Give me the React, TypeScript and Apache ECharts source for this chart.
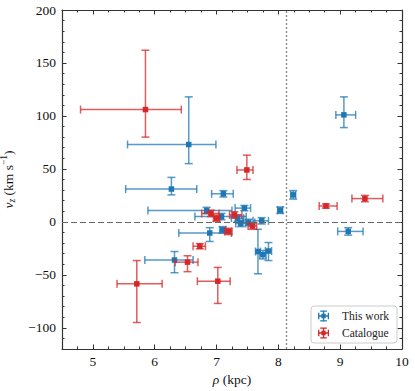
import React, { useEffect, useRef } from "react";
import * as echarts from "echarts";

// [rho (kpc), v_z (km/s), rho err minus, rho err plus, v_z err minus, v_z err plus]
const thisWork: number[][] = [
  [6.55, 73, 0.99, 0.44, 18, 45],
  [6.27, 31, 0.74, 0.41, 5.5, 11],
  [7.11, 26.5, 0.19, 0.16, 3, 3],
  [9.06, 101, 0.13, 0.19, 12, 17],
  [8.24, 25.5, 0.04, 0.04, 4, 4],
  [8.03, 11, 0.04, 0.04, 3, 3],
  [9.13, -9, 0.17, 0.24, 3.5, 3.5],
  [6.32, -36, 0.48, 0.3, 12, 8],
  [6.89, -10.5, 0.5, 0.35, 8, 5],
  [7.1, -7.5, 0.05, 0.05, 3, 3],
  [6.84, 10.7, 0.95, 0.41, 3, 3],
  [7.08, 5, 0.43, 0.4, 3, 3],
  [7.45, 13, 0.15, 0.1, 2.5, 2.5],
  [7.34, 3.5, 0.1, 0.1, 3, 3],
  [7.39, -1.5, 0.08, 0.08, 3, 3],
  [7.52, -0.5, 0.1, 0.1, 3, 3],
  [7.73, 1, 0.14, 0.11, 3, 3],
  [7.67, -28, 0.04, 0.04, 21, 21],
  [7.75, -31, 0.05, 0.05, 4, 4],
  [7.84, -27.5, 0.05, 0.05, 9, 8],
];

const catalogue: number[][] = [
  [5.85, 106, 1.05, 0.58, 26, 56],
  [7.49, 49, 0.16, 0.1, 9, 14],
  [8.77, 15, 0.11, 0.18, 2, 2],
  [9.4, 22, 0.21, 0.29, 3, 3],
  [6.91, 8, 0.15, 0.13, 3, 3],
  [7.0, 3.5, 0.05, 0.05, 3, 3],
  [7.29, 6.6, 0.08, 0.12, 3, 3],
  [7.19, -9, 0.06, 0.06, 3, 3],
  [7.58, -4, 0.07, 0.07, 3, 3],
  [6.73, -23, 0.11, 0.09, 2.5, 2.5],
  [6.53, -38, 0.2, 0.17, 9, 6],
  [5.71, -58.5, 0.32, 0.41, 36.5, 22],
  [7.02, -56, 0.33, 0.2, 21, 13],
];

const xMajorTicks = [5, 6, 7, 8, 9, 10];
const yMajorTicks = [-100, -50, 0, 50, 100, 150, 200];
const refRho = 8.12;
const refVz = 0;

const BLUE = "#1f77b4";
const RED = "#d62728";
const FONT = "Liberation Serif";
const AXIS_COLOR = "#333";
const TEXT = "#111";

const legendIcon =
  "path://M0,4.4H10V5.6H0Z M4.4,0H5.6V10H4.4Z M0,2H1.2V8H0Z M8.8,2H10V8H8.8Z M2,0H8V1.2H2Z M2,8.8H8V10H2Z M3,3H7V7H3Z";

function makeRender(color: string) {
  return (params: any, api: any) => {
    const x = api.value(0);
    const y = api.value(1);
    const xm = api.value(2);
    const xp = api.value(3);
    const ym = api.value(4);
    const yp = api.value(5);
    const c = api.coord([x, y]);
    const l = api.coord([x - xm, y]);
    const r = api.coord([x + xp, y]);
    const t = api.coord([x, y + yp]);
    const b = api.coord([x, y - ym]);
    const cap = 4;
    const s = 5.5;
    const ls = { stroke: color, lineWidth: 1.5, opacity: 0.75 };
    const line = (x1: number, y1: number, x2: number, y2: number) => ({
      type: "line",
      shape: { x1, y1, x2, y2 },
      style: ls,
    });
    return {
      type: "group",
      children: [
        line(l[0], l[1], r[0], r[1]),
        line(t[0], t[1], b[0], b[1]),
        line(l[0], l[1] - cap, l[0], l[1] + cap),
        line(r[0], r[1] - cap, r[0], r[1] + cap),
        line(t[0] - cap, t[1], t[0] + cap, t[1]),
        line(b[0] - cap, b[1], b[0] + cap, b[1]),
        {
          type: "rect",
          shape: { x: c[0] - s / 2, y: c[1] - s / 2, width: s, height: s },
          style: { fill: color },
        },
      ],
    };
  };
}

const minus = (v: number) => String(v).replace("-", "\u2212");

export default function App() {
  const ref = useRef<HTMLDivElement>(null);
  useEffect(() => {
    document.body.style.margin = "0";
    const chart = echarts.init(ref.current!, null, { renderer: "svg" });
    const baseX = { type: "value", min: 4.5, max: 10, gridIndex: 0 };
    const baseY = { type: "value", min: -120, max: 200, gridIndex: 0 };
    const hidden = { show: false };
    const txt = { fontFamily: FONT, color: TEXT };
    const option: any = {
      animation: false,
      textStyle: { fontFamily: FONT },
      grid: { left: 62, top: 10, right: 13, bottom: 42, containLabel: false, outerBoundsMode: "none" },
      xAxis: [
        {
          ...baseX,
          position: "bottom",
          axisLine: { show: true, onZero: false, lineStyle: { color: AXIS_COLOR, width: 1.2 } },
          axisTick: { show: true, inside: true, length: 4.5, customValues: xMajorTicks, lineStyle: { color: AXIS_COLOR } },
          axisLabel: { show: true, customValues: xMajorTicks, margin: 5, fontSize: 13.5, ...txt },
          splitLine: hidden,
          name: "{it|\u03c1} (kpc)",
          nameLocation: "middle",
          nameGap: 22,
          nameTextStyle: {
            fontSize: 13.5,
            ...txt,
            rich: { it: { fontStyle: "italic", fontSize: 13.5, ...txt } },
          },
        },
        {
          ...baseX,
          position: "bottom",
          interval: 0.25,
          axisLine: { show: false, onZero: false },
          axisTick: { show: true, inside: true, length: 2.5, lineStyle: { color: AXIS_COLOR } },
          axisLabel: hidden,
          splitLine: hidden,
        },
        {
          ...baseX,
          position: "top",
          axisLine: { show: true, onZero: false, lineStyle: { color: AXIS_COLOR, width: 1.2 } },
          axisTick: { show: true, inside: true, length: 4.5, customValues: xMajorTicks, lineStyle: { color: AXIS_COLOR } },
          axisLabel: hidden,
          splitLine: hidden,
        },
        {
          ...baseX,
          position: "top",
          interval: 0.25,
          axisLine: { show: false, onZero: false },
          axisTick: { show: true, inside: true, length: 2.5, lineStyle: { color: AXIS_COLOR } },
          axisLabel: hidden,
          splitLine: hidden,
        },
      ],
      yAxis: [
        {
          ...baseY,
          position: "left",
          axisLine: { show: true, onZero: false, lineStyle: { color: AXIS_COLOR, width: 1.2 } },
          axisTick: { show: true, inside: true, length: 4.5, customValues: yMajorTicks, lineStyle: { color: AXIS_COLOR } },
          axisLabel: {
            show: true,
            customValues: yMajorTicks,
            margin: 6,
            fontSize: 13.5,
            ...txt,
            formatter: (v: number) => minus(v),
          },
          splitLine: hidden,
          name: "{it|v}{sub|z} (km s{sup|\u22121})",
          nameLocation: "middle",
          nameGap: 40,
          nameTextStyle: {
            fontSize: 13.5,
            ...txt,
            rich: {
              it: { fontStyle: "italic", fontSize: 13.5, ...txt },
              sub: { fontStyle: "italic", fontSize: 9.5, ...txt, padding: [8, 0, 0, 0] },
              sup: { fontSize: 9.5, ...txt, padding: [0, 0, 8, 0] },
            },
          },
        },
        {
          ...baseY,
          position: "left",
          interval: 10,
          axisLine: { show: false, onZero: false },
          axisTick: { show: true, inside: true, length: 2.5, lineStyle: { color: AXIS_COLOR } },
          axisLabel: hidden,
          splitLine: hidden,
        },
        {
          ...baseY,
          position: "right",
          axisLine: { show: true, onZero: false, lineStyle: { color: AXIS_COLOR, width: 1.2 } },
          axisTick: { show: true, inside: true, length: 4.5, customValues: yMajorTicks, lineStyle: { color: AXIS_COLOR } },
          axisLabel: hidden,
          splitLine: hidden,
        },
        {
          ...baseY,
          position: "right",
          interval: 10,
          axisLine: { show: false, onZero: false },
          axisTick: { show: true, inside: true, length: 2.5, lineStyle: { color: AXIS_COLOR } },
          axisLabel: hidden,
          splitLine: hidden,
        },
      ],
      legend: {
        right: 18,
        bottom: 48,
        orient: "vertical",
        itemWidth: 11,
        itemHeight: 11,
        itemGap: 5,
        padding: [4, 8, 4, 7],
        borderColor: "#ccc",
        borderWidth: 1,
        borderRadius: 3,
        backgroundColor: "rgba(255,255,255,0.85)",
        textStyle: { fontFamily: FONT, fontSize: 11.5, color: "#222", padding: [0, 0, 0, 8] },
        data: [
          { name: "This work", icon: legendIcon, itemStyle: { color: BLUE } },
          { name: "Catalogue", icon: legendIcon, itemStyle: { color: RED } },
        ],
      },
      series: [
        {
          type: "line",
          xAxisIndex: 0,
          yAxisIndex: 0,
          data: [],
          silent: true,
          z: 1,
          markLine: {
            silent: true,
            symbol: "none",
            label: { show: false },
            data: [
              { xAxis: refRho, lineStyle: { color: "#888", type: [2, 2], width: 1.3 } },
              { yAxis: refVz, lineStyle: { color: "#666", type: [6, 3], width: 1.2 } },
            ],
          },
        },
        {
          name: "This work",
          type: "custom",
          xAxisIndex: 0,
          yAxisIndex: 0,
          itemStyle: { color: BLUE },
          renderItem: makeRender(BLUE),
          encode: { x: 0, y: 1 },
          data: thisWork,
          z: 2,
        },
        {
          name: "Catalogue",
          type: "custom",
          xAxisIndex: 0,
          yAxisIndex: 0,
          itemStyle: { color: RED },
          renderItem: makeRender(RED),
          encode: { x: 0, y: 1 },
          data: catalogue,
          z: 3,
        },
      ],
    };
    chart.setOption(option);
    return () => chart.dispose();
  }, []);
  return <div ref={ref} style={{ width: 415, height: 391 }} />;
}
